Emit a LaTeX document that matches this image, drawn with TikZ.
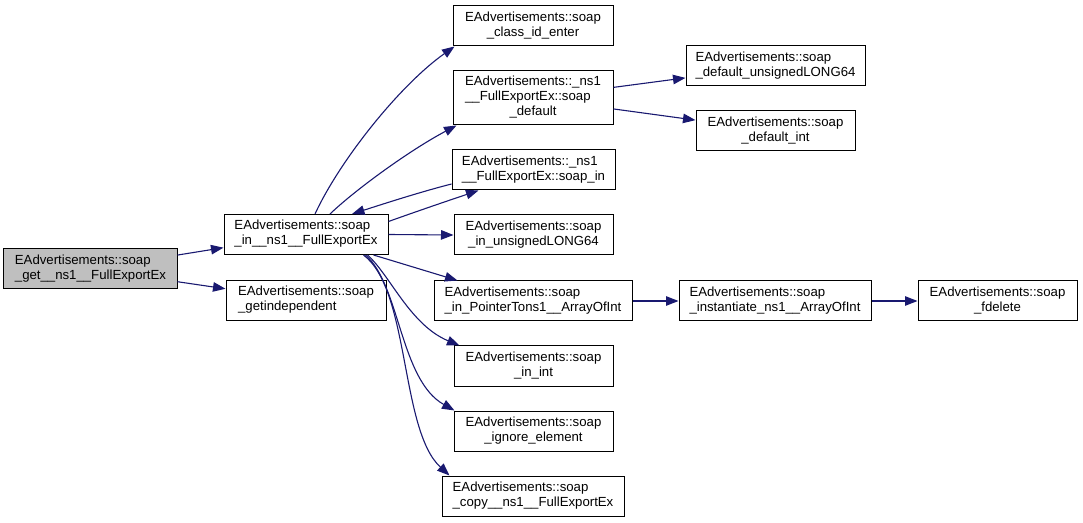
\documentclass[tikz,border=0pt]{standalone}
\usepackage{fontspec}
\setmainfont{Liberation Sans}
\usetikzlibrary{arrows.meta,calc}
\definecolor{edgeblue}{HTML}{191970}
\definecolor{mainfill}{HTML}{BFBFBF}
\newcommand\llbl[1]{\begin{tabular}{@{}l@{}}#1\end{tabular}}
\newcommand\clbl[1]{\begin{tabular}{@{}c@{}}#1\end{tabular}}
\renewcommand\arraystretch{1}
\begin{document}
\begin{tikzpicture}[x=1bp,y=-1bp,
  fnbox/.style={draw=black, line width=1bp, fill=white, inner sep=0pt, minimum height=40bp,
    font=\fontsize{13.2bp}{15bp}\selectfont},
  call/.style={draw=edgeblue, line width=1.1bp, -{Triangle[length=12.5bp,width=9.5bp]}, edgeblue}
]
\useasboundingbox (0,0) rectangle (1083,523);
% nodes
\node[fnbox, fill=mainfill, minimum width=173bp] (main) at (90.5,269) {\llbl{EAdvertisements::soap\\\_get\_\_ns1\_\_FullExportEx}};
\node[fnbox, minimum width=164bp] (in) at (306,234.5) {\llbl{EAdvertisements::soap\\\_in\_\_ns1\_\_FullExportEx}};
\node[fnbox, minimum width=160bp] (getind) at (306,300.5) {\llbl{EAdvertisements::soap\\\_getindependent}};
\node[fnbox, minimum width=160bp] (class) at (533,26) {\clbl{EAdvertisements::soap\\\_class\_id\_enter}};
\node[fnbox, minimum width=160bp, minimum height=54bp] (sdef) at (533,98) {\llbl{EAdvertisements::\_ns1\\\_\_FullExportEx::soap\\\multicolumn{1}{@{}c@{}}{\_default}}};
\node[fnbox, minimum width=163bp] (sin) at (533.5,170) {\llbl{EAdvertisements::\_ns1\\\_\_FullExportEx::soap\_in}};
\node[fnbox, minimum width=179bp] (dul) at (775.5,66) {\llbl{EAdvertisements::soap\\\_default\_unsignedLONG64}};
\node[fnbox, minimum width=159bp] (dint) at (775.5,131) {\clbl{EAdvertisements::soap\\\_default\_int}};
\node[fnbox, minimum width=159bp] (inul) at (533.5,235) {\clbl{EAdvertisements::soap\\\_in\_unsignedLONG64}};
\node[fnbox, minimum width=198bp] (ptr) at (533,301) {\llbl{EAdvertisements::soap\\\_in\_PointerTons1\_\_ArrayOfInt}};
\node[fnbox, minimum width=192bp] (inst) at (775,301) {\llbl{EAdvertisements::soap\\\_instantiate\_ns1\_\_ArrayOfInt}};
\node[fnbox, minimum width=159bp] (fdel) at (997.5,301) {\clbl{EAdvertisements::soap\\\_fdelete}};
\node[fnbox, minimum width=159bp] (inint) at (533.5,366) {\clbl{EAdvertisements::soap\\\_in\_int}};
\node[fnbox, minimum width=159bp] (ign) at (533.5,431) {\clbl{EAdvertisements::soap\\\_ignore\_element}};
\node[fnbox, minimum width=182bp] (copy) at (533,496) {\llbl{EAdvertisements::soap\\\_copy\_\_ns1\_\_FullExportEx}};
% edges
\draw[call] (main) -- (in);
\draw[call] (main) -- (getind);
\draw[call] ($(in.north)+(9,0)$) .. controls (340,160) and (400,85) .. ($(class.south west)+(2,0)$);
\draw[call] ($(in.north)+(24,0)$) .. controls (355,190) and (410,150) .. ($(sdef.south west)+(4,0)$);
\draw[call] ($(sin.west)+(0,14)$) .. controls (420,192) and (380,205) .. ($(in.north)+(46,0)$);
\draw[call] ($(in.east)+(0,-13)$) .. controls (415,212) and (450,200) .. ($(sin.south west)+(27,0)$);
\draw[call] (in.east) -- (inul.west);
\draw[call] ($(in.south east)+(-15,0)$) -- ($(ptr.north west)+(24,0)$);
\draw[call] ($(in.south east)+(-21,0)$) .. controls (390,275) and (410,325) .. ($(inint.north west)+(6,0)$);
\draw[call] ($(in.south east)+(-23,0)$) .. controls (400,285) and (400,380) .. ($(ign.north west)+(1,0)$);
\draw[call] ($(in.south east)+(-25,0)$) .. controls (410,290) and (400,430) .. ($(copy.north west)+(8,0)$);
\draw[call] (sdef) -- (dul);
\draw[call] (sdef) -- (dint);
\draw[call] (ptr) -- (inst);
\draw[call] (inst) -- (fdel);
\end{tikzpicture}
\end{document}
